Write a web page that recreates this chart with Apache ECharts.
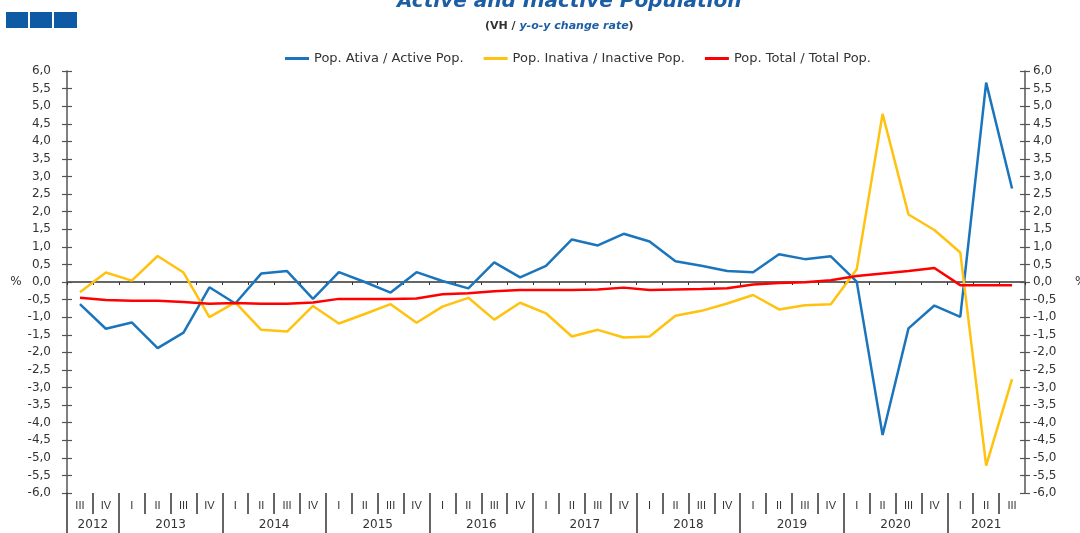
<!DOCTYPE html>
<html>
<head>
<meta charset="utf-8">
<script src="https://cdn.jsdelivr.net/npm/echarts@6/dist/echarts.min.js"></script>
<style>
    html, body { margin: 0; padding: 0; background: #fff; }
    #chart { width: 1080px; height: 533px; }
</style>
</head>
<body>
<!-- 图表容器 -->
<div id="chart"></div>
<script>
// 季度分类
const categories = [
    '2012 III', '2012 IV',
    '2013 I', '2013 II', '2013 III', '2013 IV',
    '2014 I', '2014 II', '2014 III', '2014 IV',
    '2015 I', '2015 II', '2015 III', '2015 IV',
    '2016 I', '2016 II', '2016 III', '2016 IV',
    '2017 I', '2017 II', '2017 III', '2017 IV',
    '2018 I', '2018 II', '2018 III', '2018 IV',
    '2019 I', '2019 II', '2019 III', '2019 IV',
    '2020 I', '2020 II', '2020 III', '2020 IV',
    '2021 I', '2021 II', '2021 III'
]

// 三条序列 (y-o-y %)
const activePop = [
    -0.63, -1.33,
    -1.15, -1.88, -1.44, -0.15,
    -0.61, 0.24, 0.31, -0.48,
    0.28, 0.00, -0.30, 0.28,
    0.03, -0.18, 0.56, 0.13,
    0.46, 1.21, 1.04, 1.37,
    1.15, 0.59, 0.46, 0.31,
    0.28, 0.79, 0.65, 0.73,
    0.01, -4.35, -1.32, -0.67,
    -0.99, 5.67, 2.66
]
const inactivePop = [
    -0.29, 0.27,
    0.04, 0.74, 0.27, -1.00,
    -0.58, -1.36, -1.41, -0.68,
    -1.18, -0.91, -0.63, -1.16,
    -0.70, -0.45, -1.07, -0.59,
    -0.89, -1.55, -1.36, -1.58,
    -1.55, -0.96, -0.82, -0.61,
    -0.37, -0.78, -0.66, -0.63,
    0.36, 4.78, 1.92, 1.48,
    0.84, -5.22, -2.76
]
const totalPop = [
    -0.45, -0.51,
    -0.53, -0.53, -0.57, -0.62,
    -0.60, -0.62, -0.62, -0.58,
    -0.48, -0.48, -0.48, -0.47,
    -0.35, -0.32, -0.26, -0.23,
    -0.23, -0.23, -0.21, -0.16,
    -0.23, -0.21, -0.20, -0.18,
    -0.07, -0.03, -0.01, 0.05,
    0.17, 0.24, 0.31, 0.40,
    -0.09, -0.09, -0.09
]

const seriesNames = ['Pop. Ativa / Active Pop.', 'Pop. Inativa / Inactive Pop.', 'Pop. Total / Total Pop.']
const seriesColors = ['#1b75bc', '#ffc20e', '#ff0000']

// y 轴刻度
const yMin = -6
const yMax = 6
const yStep = 0.5

// 底部轴: 半季度网格, 偶数位置=分隔线, 奇数位置=季度中心
const halfCount = categories.length * 2 + 1
const quarterAxisData = []
const yearAxisData = []
const yearBounds = {}
for (let h = 0; h < halfCount; h++) {
    quarterAxisData.push(h % 2 === 1 ? categories[(h - 1) / 2].split(' ')[1] : '')
    yearAxisData.push('')
}
let start = 0
for (let q = 1; q <= categories.length; q++) {
    const y = categories[start].split(' ')[0]
    if (q === categories.length || categories[q].split(' ')[0] !== y) {
        yearBounds[start * 2] = true
        yearAxisData[start * 2 + (q - start)] = y
        start = q
    }
}

const fmt = v => v.toFixed(1).replace('.', ',')
const font = "'DejaVu Sans', 'Liberation Sans', sans-serif"
const narrow = "'Liberation Sans Narrow', 'Liberation Sans', Arial, sans-serif"

var chartDom = document.getElementById('chart')
var myChart = echarts.init(chartDom)

function yAx(pos, main) {
    return {
        type: 'value',
        position: pos,
        min: yMin,
        max: yMax,
        interval: yStep,
        name: main ? '%' : '',
        nameLocation: 'middle',
        nameRotate: 0,
        nameGap: pos === 'left' ? 44 : 50,
        nameTextStyle: { color: '#333', fontSize: 12, fontFamily: font },
        splitLine: { show: false },
        axisLine: { show: main, lineStyle: { color: '#555', width: 1.5 } },
        axisTick: { show: true, inside: !main, length: 5, lineStyle: { color: '#555', width: 1.2 } },
        axisLabel: {
            show: main,
            formatter: fmt,
            color: '#333',
            fontSize: 12,
            fontFamily: font,
            margin: pos === 'left' ? 16 : 8
        }
    }
}

var option = {
    animation: false,
    title: [
        {
            text: 'Active and Inactive Population',
            left: 392,
            top: -13,
            textStyle: { color: '#1c5ea6', fontSize: 20, fontWeight: 'bold', fontStyle: 'italic', fontFamily: font }
        },
        {
            text: '{a|(VH / }{b|y-o-y change rate}{a|)}',
            left: 480,
            top: 16,
            textStyle: {
                rich: {
                    a: { color: '#333', fontSize: 11, fontFamily: font },
                    b: { color: '#1c5ea6', fontSize: 11, fontWeight: 'bold', fontStyle: 'italic', fontFamily: font }
                }
            }
        }
    ],
    legend: {
        left: 280,
        top: 47,
        icon: 'rect',
        itemWidth: 24,
        itemHeight: 3,
        itemGap: 20,
        textStyle: { color: '#333', fontSize: 13, fontFamily: font },
        data: seriesNames
    },
    graphic: [
        { type: 'rect', shape: { x: 6, y: 12, width: 22, height: 16 }, style: { fill: '#0f5aa5' } },
        { type: 'rect', shape: { x: 30, y: 12, width: 22, height: 16 }, style: { fill: '#0f5aa5' } },
        { type: 'rect', shape: { x: 54, y: 12, width: 23, height: 16 }, style: { fill: '#0f5aa5' } }
    ],
    grid: { left: 67, right: 55, top: 71, bottom: 40, outerBoundsMode: 'none', containLabel: false },
    xAxis: [
        {
            // 零线
            type: 'category',
            data: categories,
            boundaryGap: true,
            axisLine: { onZero: true, lineStyle: { color: '#666', width: 2 } },
            axisTick: { show: true, interval: 0, length: 3, lineStyle: { color: '#333', width: 1 } },
            axisLabel: { show: false },
            splitLine: { show: false }
        },
        {
            // 季度标签
            type: 'category',
            position: 'bottom',
            data: quarterAxisData,
            boundaryGap: false,
            axisLine: { show: false, onZero: false },
            axisTick: {
                show: true,
                length: 21,
                interval: (i) => i % 2 === 0 && i > 0 && i < halfCount - 1,
                lineStyle: { color: '#333', width: 1.5 }
            },
            axisLabel: {
                interval: (i) => i % 2 === 1,
                margin: 7,
                color: '#333',
                fontSize: 11,
                fontFamily: narrow
            },
            splitLine: { show: false }
        },
        {
            // 年份标签
            type: 'category',
            position: 'bottom',
            data: yearAxisData,
            boundaryGap: false,
            axisLine: { show: false, onZero: false },
            axisTick: {
                show: true,
                length: 42,
                interval: (i) => !!yearBounds[i],
                lineStyle: { color: '#333', width: 1.5 }
            },
            axisLabel: {
                interval: (i, v) => v !== '',
                margin: 26,
                color: '#333',
                fontSize: 12,
                fontFamily: font
            },
            splitLine: { show: false }
        }
    ],
    yAxis: [yAx('left', true), yAx('right', true), yAx('left', false), yAx('right', false)],
    series: [
        {
            name: seriesNames[0],
            type: 'line',
            data: activePop,
            symbol: 'none',
            lineStyle: { width: 2.5, color: seriesColors[0] },
            itemStyle: { color: seriesColors[0] }
        },
        {
            name: seriesNames[1],
            type: 'line',
            data: inactivePop,
            symbol: 'none',
            lineStyle: { width: 2.5, color: seriesColors[1] },
            itemStyle: { color: seriesColors[1] }
        },
        {
            name: seriesNames[2],
            type: 'line',
            data: totalPop,
            symbol: 'none',
            lineStyle: { width: 2.5, color: seriesColors[2] },
            itemStyle: { color: seriesColors[2] }
        }
    ]
}

option && myChart.setOption(option)
</script>
</body>
</html>
